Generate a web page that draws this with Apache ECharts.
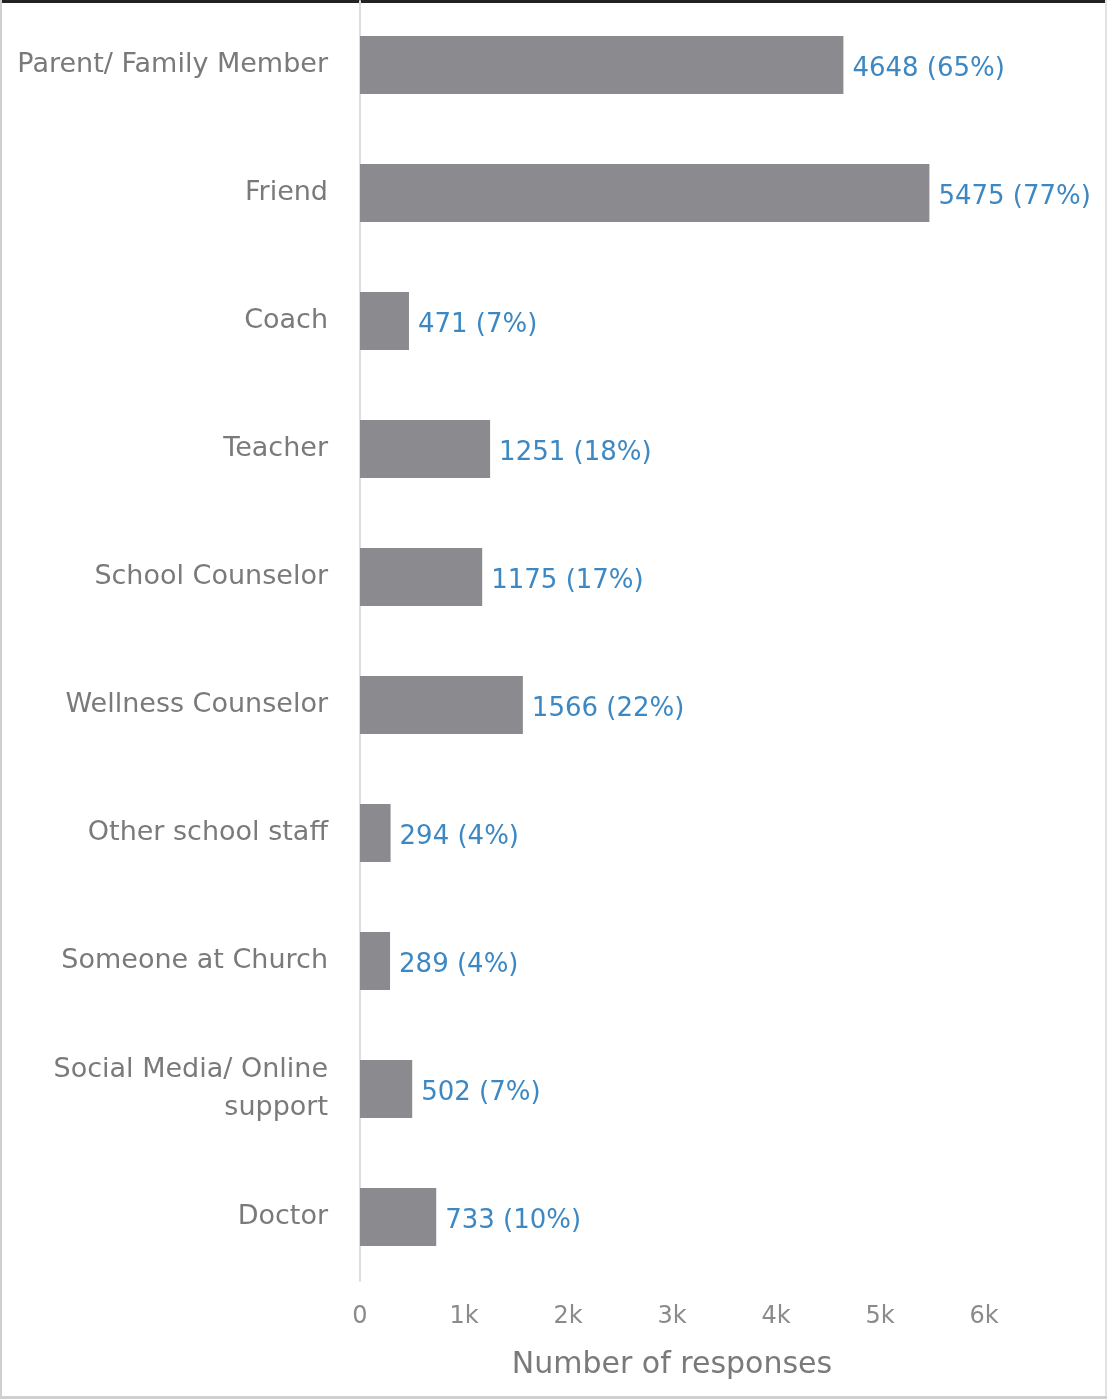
<!DOCTYPE html>
<html>
<head>
<meta charset="utf-8">
<script src="https://cdn.jsdelivr.net/npm/echarts@6/dist/echarts.min.js"></script>
<style>
  html, body { margin: 0; padding: 0; background: #fff; }
  #chart { width: 1107px; height: 1399px; }
</style>
</head>
<body>
<div id="chart"></div>
<script>
const categories = [
  'Parent/ Family Member', 'Friend', 'Coach', 'Teacher', 'School Counselor',
  'Wellness Counselor', 'Other school staff', 'Someone at Church',
  'Social Media/ Online\nsupport', 'Doctor',
];
const responses = [4648, 5475, 471, 1251, 1175, 1566, 294, 289, 502, 733];
const percents = [65, 77, 7, 18, 17, 22, 4, 4, 7, 10];
const xTicks = ['0', '1k', '2k', '3k', '4k', '5k', '6k'];

const chart = echarts.init(document.getElementById('chart'));
const font = 'DejaVu Sans';

chart.setOption({
  backgroundColor: '#fff',
  animation: false,
  textStyle: { fontFamily: font },
  grid: { left: 360, right: 123, top: 1, bottom: 118, containLabel: false },
  xAxis: {
    type: 'value',
    min: 0,
    max: 6000,
    interval: 1000,
    name: 'Number of responses',
    nameLocation: 'middle',
    nameGap: 69,
    nameTextStyle: { fontSize: 30, color: '#7a7a7a', fontFamily: font },
    axisLine: { show: false },
    axisTick: { show: false },
    splitLine: { show: false },
    axisLabel: {
      fontSize: 24, color: '#8a8a8a', margin: 24, fontFamily: font,
      formatter: (v) => xTicks[Math.round(v / 1000)],
    },
  },
  yAxis: {
    type: 'category',
    data: categories,
    inverse: true,
    axisLine: { show: true, lineStyle: { color: '#dedede', width: 2 } },
    axisTick: { show: false },
    axisLabel: {
      fontSize: 27, color: '#7a7a7a', margin: 32, lineHeight: 38, fontFamily: font,
      align: 'right',
    },
  },
  series: [{
    type: 'bar',
    data: responses,
    barWidth: 58,
    itemStyle: { color: '#8b8b8f' },
    label: {
      show: true,
      position: 'right',
      distance: 9,
      offset: [0, 4],
      fontSize: 26,
      color: '#3d88c2',
      fontFamily: font,
      formatter: (p) => `${p.value} (${percents[p.dataIndex]}%)`,
    },
  }],
  graphic: [
    { type: 'rect', left: 0, top: 0, shape: { width: 1107, height: 3 }, style: { fill: '#222' } },
    { type: 'rect', left: 0, top: 0, shape: { width: 2, height: 1399 }, style: { fill: '#cfcfcf' } },
    { type: 'rect', left: 1105, top: 0, shape: { width: 2, height: 1399 }, style: { fill: '#e2e2e2' } },
    { type: 'rect', left: 0, top: 1396, shape: { width: 1107, height: 3 }, style: { fill: '#cfcfcf' } },
  ],
});
</script>
</body>
</html>
